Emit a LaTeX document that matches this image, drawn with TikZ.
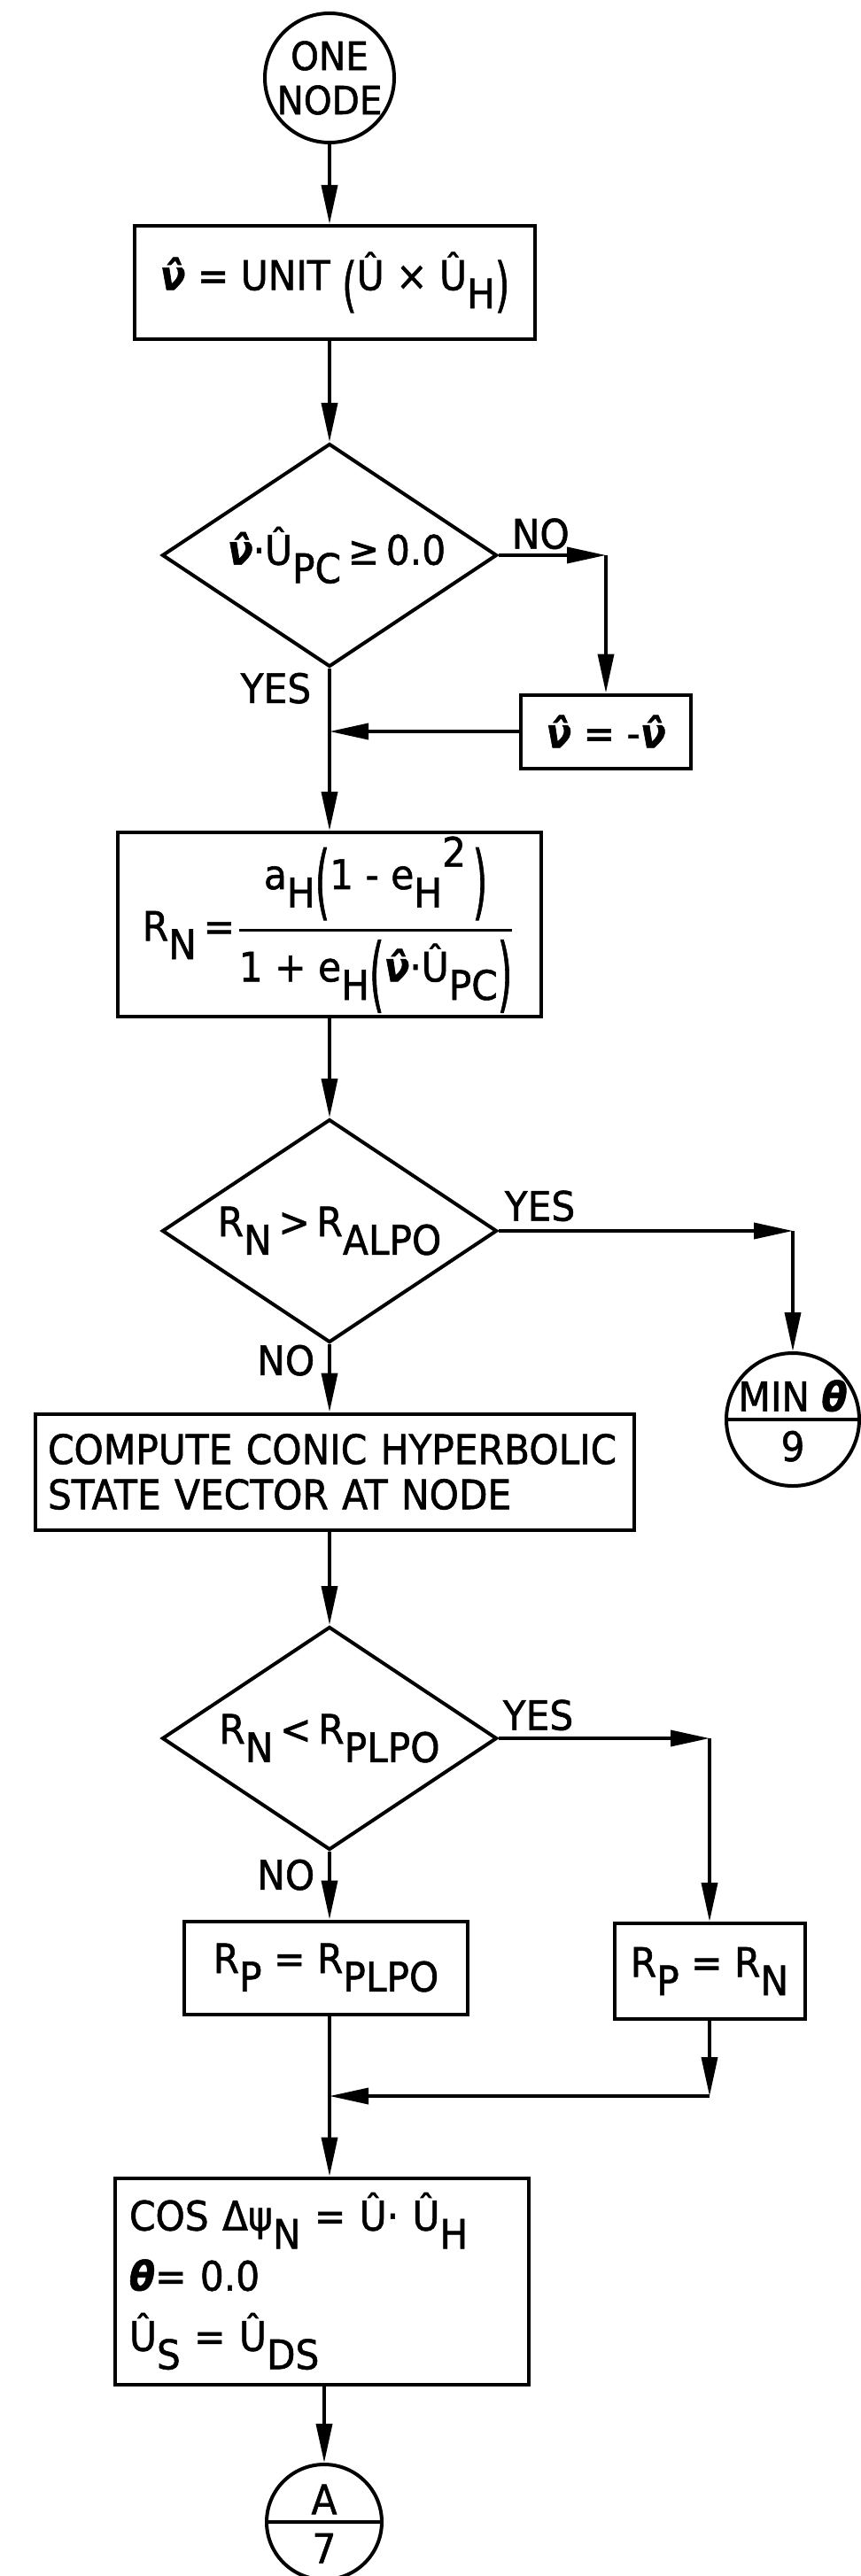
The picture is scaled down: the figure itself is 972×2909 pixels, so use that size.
\documentclass[tikz,border=0pt]{standalone}
\usepackage{fontspec}
\setmainfont{DejaVu Sans}[FakeStretch=0.92, RawFeature={embolden=1.2}]
\usepackage{graphicx}
\usetikzlibrary{shapes.geometric,arrows.meta}
\newcommand{\vh}{{\bfseries\itshape \^{ν}}}
\newcommand{\thb}{{\bfseries\itshape θ}}
\newcommand{\sbs}[1]{\raisebox{-0.45em}{#1}}
\newcommand{\Lpa}[2]{\raisebox{#2}{\scalebox{1}[#1]{(}}}
\newcommand{\Rpa}[2]{\raisebox{#2}{\scalebox{1}[#1]{)}}}
\begin{document}
\begin{tikzpicture}[x=0.25pt,y=-0.25pt,
  every node/.style={font=\fontsize{11.5}{14}\selectfont},
  box/.style={draw, line width=1pt, inner sep=0pt},
  dia/.style={draw, diamond, line width=1pt, minimum width=94.5pt, minimum height=63pt, inner sep=0pt},
  circ/.style={draw, circle, line width=1pt, inner sep=0pt},
  lbl/.style={inner sep=0pt},
  arr/.style={line width=0.9pt, -{Triangle[length=11pt,width=4.5pt]}},
  divl/.style={line width=1pt}]
\useasboundingbox (0,0) rectangle (972,2909);
\fill[white] (0,0) rectangle (972,2909);

% nodes
\node[circ, minimum size=36.5pt, align=center, font=\fontsize{11}{12.5}\selectfont] (c1) at (372,88) {ONE\\NODE};
\node[box, minimum width=113pt, minimum height=32pt] (b1) at (378,319)
  {\vh\ = UNIT \Lpa{1.45}{-0.37em}Û × Û\sbs{H}\Rpa{1.45}{-0.37em}};
\node[dia] (d1) at (372,627) {};
\node[lbl] (t1) at ([xshift=2pt]d1.center) {\vh·Û\sbs{PC}\,≥\,0.0};
\node[box, minimum width=48pt, minimum height=20.75pt] (b2) at (684,826) {\vh\ = -\vh};
\node[box, minimum width=119.5pt, minimum height=52pt] (b3) at (372,1044)
  {R\sbs{N}\,=$\displaystyle{\hbox{a\sbs{H}\Lpa{2}{-0.5em}1 - e\sbs{H}\raisebox{0.55em}{2}\,\Rpa{2}{-0.5em}}\above0.8pt
   \hbox{1 + e\sbs{H}\Lpa{2}{-0.5em}\vh·Û\sbs{PC}\Rpa{2}{-0.5em}}}$};
\node[dia] (d2) at (372,1390) {};
\node[lbl] (t2) at (d2.center) {R\sbs{N}\,>\,R\sbs{ALPO}};
\node[circ, minimum size=37.5pt] (c2) at (895,1603) {};
\node[lbl, anchor=south] (c2t) at ([yshift=2pt]c2.center) {MIN \thb};
\node[lbl, anchor=north] (c2b) at ([yshift=-3pt]c2.center) {9};
\node[box, minimum height=32.75pt, text width=162pt, inner xsep=3.5pt, align=left,
  font=\fontsize{11.5}{12.75}\selectfont] (b4) at (378,1662)
  {COMPUTE CONIC HYPERBOLIC\\STATE VECTOR AT NODE};
\node[dia] (d3) at (372,1963) {};
\node[lbl] (t3) at (d3.center) {R\sbs{N}\,<\,R\sbs{PLPO}};
\node[box, minimum width=80pt, minimum height=26.25pt] (b5) at (368,2222) {R\sbs{P} = R\sbs{PLPO}};
\node[box, minimum width=53.75pt, minimum height=27pt] (b6) at (801,2226) {R\sbs{P} = R\sbs{N}};
\coordinate (mj) at (372,2367);
\node[box, minimum height=58.25pt, text width=108.75pt, inner xsep=4pt, align=left,
  font=\fontsize{11.5}{17}\selectfont] (b7) at (363.5,2576)
  {COS Δψ\sbs{N} = Û· Û\sbs{H}\\ \thb = 0.0\\ Û\sbs{S} = Û\sbs{DS}};
\node[circ, minimum size=32.5pt] (c3) at (366,2848) {};
\node[lbl, anchor=south] (c3t) at ([yshift=2pt]c3.center) {A};
\node[lbl, anchor=north] (c3b) at ([yshift=-3pt]c3.center) {7};
\draw[divl] (c2.west) -- (c2.east);
\draw[divl] (c3.west) -- (c3.east);

% labels
\node[lbl, anchor=south west] (no1) at ([xshift=3.5pt,yshift=1.5pt]d1.east) {NO};
\node[lbl, anchor=north east] (yes1) at ([xshift=-5pt,yshift=-1pt]d1.south) {YES};
\node[lbl, anchor=south west] (yes2) at ([xshift=1.5pt,yshift=2.5pt]d2.east) {YES};
\node[lbl, anchor=north east] (no2) at ([xshift=-4pt,yshift=0pt]d2.south) {NO};
\node[lbl, anchor=south west] (yes3) at ([xshift=1pt,yshift=2pt]d3.east) {YES};
\node[lbl, anchor=north east] (no3) at ([xshift=-4pt,yshift=-2pt]d3.south) {NO};

% connectors
\draw[arr] (c1.south) -- (c1.south |- b1.north);
\draw[arr] (b1.south -| d1.north) -- (d1.north);
\draw[arr] (d1.east) -- (d1.east -| b2.north);
\draw[arr] (d1.east -| b2.north) -- (b2.north);
\draw[arr] (b2.west) -- (b2.west -| d1.south);
\draw[arr] (d1.south) -- (b3.north -| d1.south);
\draw[arr] (b3.south -| d2.north) -- (d2.north);
\draw[arr] (d2.east) -- (d2.east -| c2.north);
\draw[arr] (d2.east -| c2.north) -- (c2.north);
\draw[arr] (d2.south) -- (d2.south |- b4.north);
\draw[arr] (b4.south -| d3.north) -- (d3.north);
\draw[arr] (d3.east) -- (d3.east -| b6.north);
\draw[arr] (d3.east -| b6.north) -- (b6.north);
\draw[arr] (d3.south) -- (d3.south |- b5.north);
\draw[arr] (b6.south) -- (b6.south |- mj);
\draw[arr] (b6.south |- mj) -- (mj);
\draw[arr] (b5.south -| mj) -- (mj |- b7.north);
\draw[arr] (b7.south -| c3.north) -- (c3.north);
\end{tikzpicture}
\end{document}
